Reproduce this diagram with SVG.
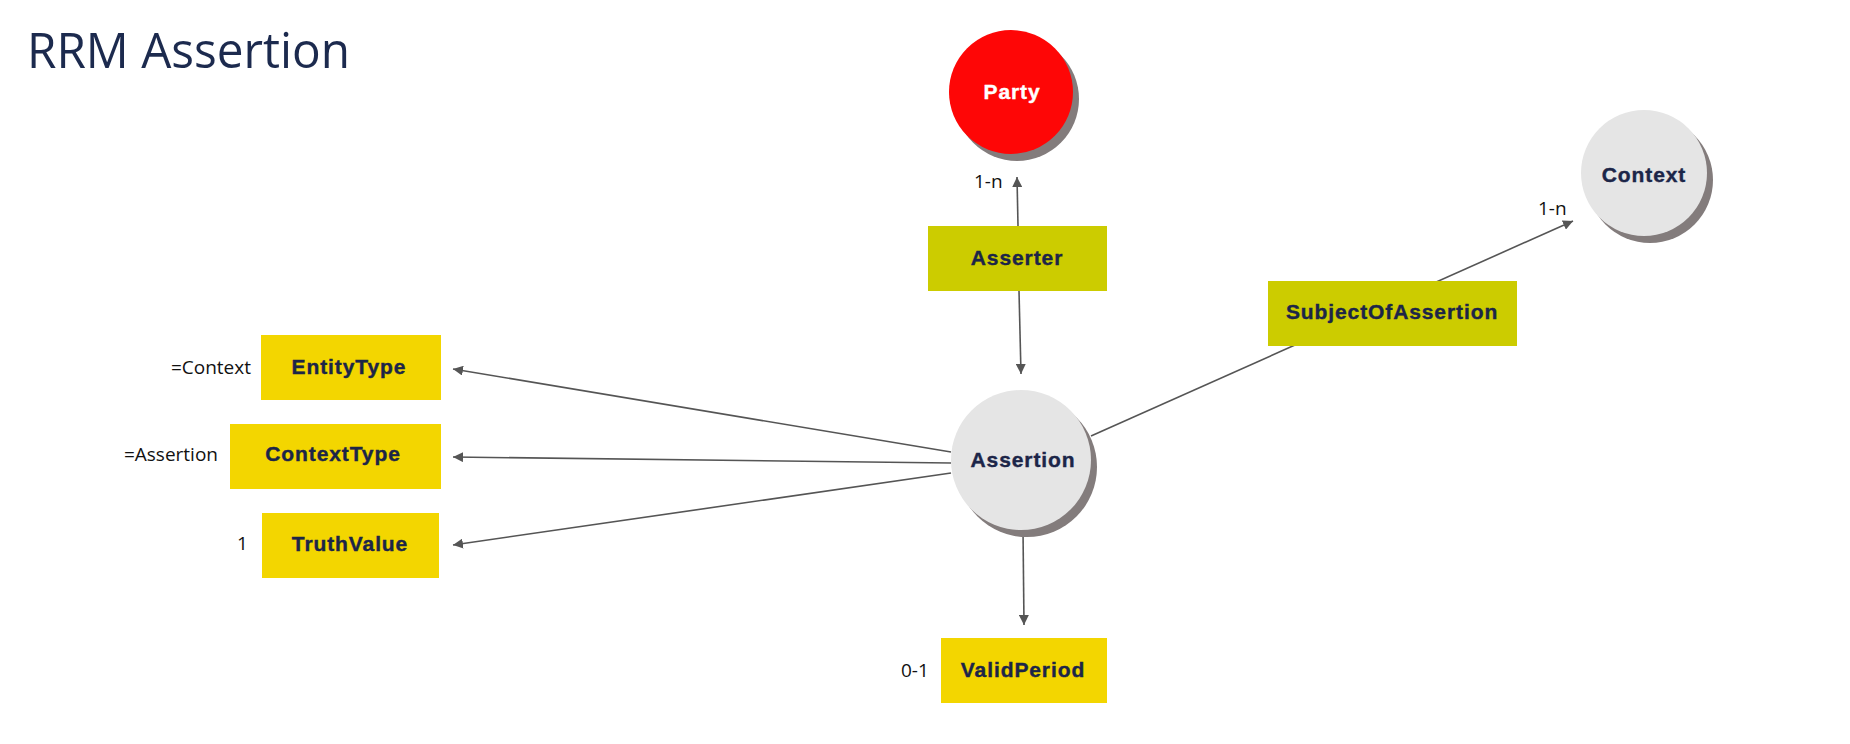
<svg xmlns="http://www.w3.org/2000/svg" width="1850" height="744" viewBox="0 0 1850 744">
<style>
.bg{fill:#ffffff}
.title{font-family:"Open Sans","Noto Sans","Liberation Sans",sans-serif;font-size:50px;fill:#1c2a4e}
.lbl{font-family:"Open Sans","Noto Sans","Liberation Sans",sans-serif;font-size:19px;fill:#111111}
.nt{font-family:"Liberation Sans",Arial,sans-serif;font-weight:bold;font-size:21px;letter-spacing:0.9px;fill:#1c2548;text-anchor:middle;stroke:#1c2548;stroke-width:0.4px}
.wt{fill:#ffffff;stroke:#ffffff}
.yel{fill:#f3d600}
.olv{fill:#cccc00}
.circ{fill:#e5e5e5}
.red{fill:#fe0606}
.shd{fill:#837c7c}
.edge{stroke:#555555;stroke-width:1.6;fill:none}
</style>
<defs>
<marker id="ah" viewBox="0 0 10 10" refX="10" refY="5" markerWidth="10" markerHeight="10" markerUnits="userSpaceOnUse" orient="auto">
<path d="M0,0 L10,5 L0,10 z" fill="#555555"/>
</marker>
</defs>
<rect class="bg" x="0" y="0" width="1850" height="744"/>
<text class="title" x="27" y="68" textLength="323" lengthAdjust="spacingAndGlyphs">RRM Assertion</text>

<g id="connectors">
<line class="edge" x1="1018" y1="226" x2="1017" y2="177" marker-end="url(#ah)"/>
<line class="edge" x1="1019" y1="291" x2="1021" y2="374" marker-end="url(#ah)"/>
<line class="edge" x1="1091" y1="436" x2="1573" y2="221" marker-end="url(#ah)"/>
<line class="edge" x1="951" y1="452" x2="453" y2="369" marker-end="url(#ah)"/>
<line class="edge" x1="951" y1="463" x2="453" y2="457" marker-end="url(#ah)"/>
<line class="edge" x1="951" y1="473" x2="453" y2="545" marker-end="url(#ah)"/>
<line class="edge" x1="1023" y1="530" x2="1024" y2="625" marker-end="url(#ah)"/>
<text class="lbl" x="974" y="188">1-n</text>
<text class="lbl" x="1538" y="215">1-n</text>
<text class="lbl" x="251" y="374" text-anchor="end">=Context</text>
<text class="lbl" x="218" y="461" text-anchor="end">=Assertion</text>
<text class="lbl" x="237" y="550">1</text>
<text class="lbl" x="901" y="677">0-1</text>
</g>

<g id="party">
<circle class="shd" cx="1017" cy="99" r="62"/>
<circle class="red" cx="1011" cy="92" r="62"/>
<text class="nt wt" x="1012" y="99">Party</text>
</g>

<g id="context">
<circle class="shd" cx="1650" cy="180" r="63"/>
<circle class="circ" cx="1644" cy="173" r="63"/>
<text class="nt" x="1644" y="182">Context</text>
</g>

<g id="assertion">
<circle class="shd" cx="1027" cy="467" r="70"/>
<circle class="circ" cx="1021" cy="460" r="70"/>
<text class="nt" x="1023" y="467">Assertion</text>
</g>

<g id="asserter">
<rect class="olv" x="928" y="226" width="179" height="65"/>
<text class="nt" x="1017" y="265">Asserter</text>
</g>

<g id="subjectofassertion">
<rect class="olv" x="1268" y="281" width="249" height="65"/>
<text class="nt" x="1392" y="319">SubjectOfAssertion</text>
</g>

<g id="entitytype">
<rect class="yel" x="261" y="335" width="180" height="65"/>
<text class="nt" x="349" y="374">EntityType</text>
</g>

<g id="contexttype">
<rect class="yel" x="230" y="424" width="211" height="65"/>
<text class="nt" x="333" y="461">ContextType</text>
</g>

<g id="truthvalue">
<rect class="yel" x="262" y="513" width="177" height="65"/>
<text class="nt" x="350" y="551">TruthValue</text>
</g>

<g id="validperiod">
<rect class="yel" x="941" y="638" width="166" height="65"/>
<text class="nt" x="1023" y="677">ValidPeriod</text>
</g>
</svg>
